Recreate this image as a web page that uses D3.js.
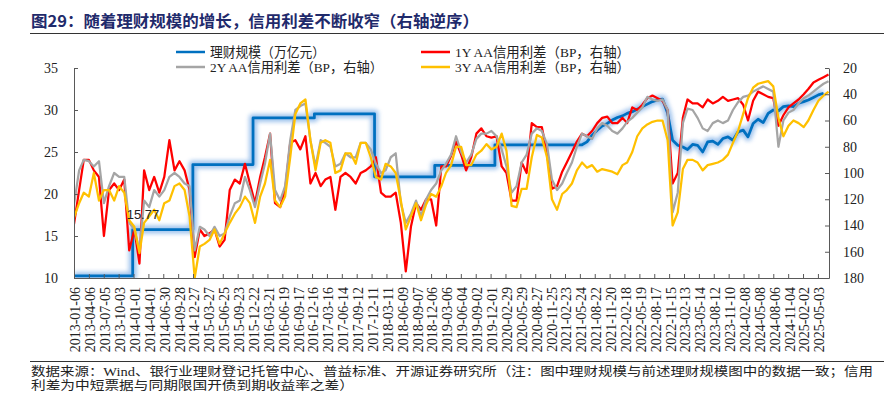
<!DOCTYPE html>
<html>
<head>
<meta charset="utf-8">
<script src="https://cdn.jsdelivr.net/npm/d3@7"></script>
<style>
  body { margin: 0; background: #fff; }
  svg { display: block; }
</style>
</head>
<body>
<svg id="chart" width="884" height="393"></svg>
<script>
// ---- data ----
const tickLabels = ["2013-01-06","2013-04-06","2013-07-05","2013-10-03","2014-01-01","2014-04-01","2014-06-30",
  "2014-09-28","2014-12-27","2015-03-27","2015-06-25","2015-09-23","2015-12-22","2016-03-21","2016-06-19",
  "2016-09-17","2016-12-16","2017-03-16","2017-06-14","2017-09-12","2017-12-11","2018-03-11","2018-06-09",
  "2018-09-07","2018-12-06","2019-03-06","2019-06-04","2019-09-02","2019-12-01","2020-02-29","2020-05-29",
  "2020-08-27","2020-11-25","2021-02-23","2021-05-24","2021-08-22","2021-11-20","2022-02-18","2022-05-19",
  "2022-08-17","2022-11-15","2023-02-13","2023-05-14","2023-08-12","2023-11-10","2024-02-08","2024-05-08",
  "2024-08-06","2024-11-04","2025-02-02","2025-05-03"];

// monthly observation dates for the spread series: 2013-01 .. 2025-07
const months = d3.timeMonth.range(new Date(2013, 0, 1), new Date(2025, 7, 1)).map(d => d3.timeDay.offset(d, 5));

const spread1Y = [139,113,90,90,98,103,148,113,108,113,105,159,
  143,169,98,113,103,115,103,75,98,91,98,113,
  164,143,148,146,143,156,151,113,105,108,93,108,
  123,103,88,70,123,126,113,77,75,82,72,108,
  100,110,105,103,128,103,100,103,108,100,98,95,
  88,115,118,118,115,138,175,141,123,128,120,120,
  140,95,95,87,76,86,98,88,70,66,72,73,
  72,95,100,121,121,92,100,62,65,65,85,112,
  110,99,92,84,76,70,72,68,62,58,57,62,
  62,58,62,50,52,48,43,41,43,45,52,108,
  100,58,44,47,47,50,44,47,45,42,45,44,
  43,48,60,45,38,40,42,43,64,56,50,47,
  44,40,36,31,29,27,25];

const spread2Y = [124,98,90,91,95,91,123,110,100,103,103,138,
  143,159,121,126,113,118,113,103,100,103,108,110,
  159,141,143,148,141,148,146,133,123,121,103,113,
  126,108,93,70,113,121,110,75,52,49,47,75,
  95,75,77,80,95,93,85,88,88,77,77,82,
  93,100,98,88,85,123,138,131,121,133,120,113,
  108,98,93,86,72,84,92,86,74,70,70,68,
  72,82,95,115,110,92,86,70,66,68,78,105,
  113,108,100,92,80,70,72,74,66,62,64,68,
  70,66,61,58,54,50,42,44,45,44,52,130,
  115,62,51,52,58,66,68,62,60,62,60,52,
  46,42,41,38,36,34,36,38,80,60,54,52,
  47,43,41,38,35,32,30];

const spread3Y = [134,123,115,118,100,121,113,113,121,110,115,136,
  141,161,138,133,128,136,123,121,110,108,113,133,
  180,156,154,151,143,154,146,138,131,126,118,123,
  138,118,108,90,121,126,118,88,55,47,44,75,
  98,77,75,77,100,98,85,85,93,77,77,88,
  103,105,93,95,100,121,143,133,123,136,124,116,
  118,110,100,94,80,80,94,94,86,83,78,82,
  80,70,83,125,126,112,112,88,71,73,88,120,
  128,116,113,108,98,92,96,94,99,97,98,99,
  101,94,92,84,72,66,63,61,60,60,75,140,
  130,97,90,90,92,98,94,93,92,90,86,77,
  68,55,43,35,32,31,30,34,58,72,64,60,
  62,65,60,52,45,41,38];

// wealth-management scale (trillion yuan): annual steps, then monthly from 2021-06
const scaleStepDates = ["2013-01-06","2013-12-27","2014-12-26","2015-12-25","2016-12-30","2017-12-29","2018-12-28","2019-12-27"];
const scaleStepValues = [10.24, 15.77, 23.50, 29.05, 29.54, 22.04, 23.40, 25.86];
const scaleMonthlyStart = "2021-06-06";
const scaleMonthly = [25.86,26.2,27.0,27.6,28.1,28.4,28.8,29.1,29.3,29.6,29.8,30.1,
  30.4,30.7,31.0,31.2,31.3,29.6,26.4,25.8,25.6,25.3,25.9,25.8,
  25.0,26.2,26.3,25.9,26.6,26.8,26.4,27.4,27.6,26.8,28.4,28.9,
  28.5,29.6,30.0,29.9,30.4,30.5,30.4,30.8,31.0,31.2,31.5,31.8,32.0];

const leftTicks = [10, 15, 20, 25, 30, 35];
const rightTicks = [20, 40, 60, 80, 100, 120, 140, 160, 180];

// ---- layout ----
const parse = d3.timeParse("%Y-%m-%d");
const serif = "'Liberation Serif', 'Noto Sans CJK SC', serif";
const svg = d3.select("#chart");

const x = d3.scaleTime()
  .domain([parse("2013-01-06"), parse("2025-07-09")])
  .range([74, 829]);
const yL = d3.scaleLinear().domain([10, 35]).range([278, 68]);
const yR = d3.scaleLinear().domain([20, 180]).range([68, 278]);

// title
svg.append("text")
  .attr("x", 31).attr("y", 27)
  .attr("font-family", "'Noto Sans CJK SC', sans-serif")
  .attr("font-weight", 700)
  .attr("font-size", 16)
  .attr("fill", "#1f2a6b")
  .attr("textLength", 448).attr("lengthAdjust", "spacingAndGlyphs")
  .text("图29：随着理财规模的增长，信用利差不断收窄（右轴逆序）");
svg.append("line").attr("x1", 30).attr("x2", 884).attr("y1", 33.5).attr("y2", 33.5)
  .attr("stroke", "#333").attr("stroke-width", 1);

// legend
const legendItems = [
  { name: "理财规模（万亿元）", color: "#0070C0", x: 176, y: 52, w: 115 },
  { name: "1Y AA信用利差（BP，右轴）", color: "#FF0000", x: 421, y: 52, w: 175 },
  { name: "2Y AA信用利差（BP，右轴）", color: "#A5A5A5", x: 176, y: 67, w: 173 },
  { name: "3Y AA信用利差（BP，右轴）", color: "#FFC000", x: 421, y: 67, w: 175 }
];
const lg = svg.append("g").selectAll("g").data(legendItems).enter().append("g")
  .attr("transform", d => `translate(${d.x},${d.y})`);
lg.append("line").attr("x1", 0).attr("x2", 29).attr("y1", 0).attr("y2", 0)
  .attr("stroke", d => d.color).attr("stroke-width", 2.5);
lg.append("text").attr("x", 34).attr("y", 0).attr("dy", "0.35em")
  .attr("font-family", serif).attr("font-size", 13.5).attr("fill", "#222")
  .attr("textLength", d => d.w).attr("lengthAdjust", "spacingAndGlyphs")
  .text(d => d.name);

// glow filter for the scale line
const defs = svg.append("defs");
defs.append("filter").attr("id", "glow")
  .attr("x", "-5%").attr("y", "-20%").attr("width", "110%").attr("height", "140%")
  .append("feGaussianBlur").attr("stdDeviation", 2.2);
defs.append("clipPath").attr("id", "plotClip")
  .append("rect").attr("x", 74).attr("y", 60).attr("width", 755).attr("height", 219);

// blue series points
const bluePts = [];
scaleStepDates.forEach((s, i) => {
  const start = parse(s);
  const end = i + 1 < scaleStepDates.length ? parse(scaleStepDates[i + 1]) : parse(scaleMonthlyStart);
  bluePts.push([start, scaleStepValues[i]]);
  bluePts.push([end, scaleStepValues[i]]);
});
const mStart = parse(scaleMonthlyStart);
scaleMonthly.forEach((v, i) => bluePts.push([d3.timeMonth.offset(mStart, i), v]));

const plot = svg.append("g").attr("clip-path", "url(#plotClip)");
const blueLine = d3.line().x(d => x(d[0])).y(d => yL(d[1]));
plot.append("path").datum(bluePts).attr("d", blueLine)
  .attr("fill", "none").attr("stroke", "#8FB9EA").attr("stroke-width", 8)
  .attr("stroke-linejoin", "round").attr("opacity", 0.85).attr("filter", "url(#glow)");
plot.append("path").datum(bluePts).attr("d", blueLine)
  .attr("fill", "none").attr("stroke", "#0070C0").attr("stroke-width", 2.75)
  .attr("stroke-linejoin", "round");

// spreads (right axis, reversed)
const spreadLine = d3.line().x((d, i) => x(months[i])).y(d => yR(d));
[[spread1Y, "#FF0000"], [spread2Y, "#A5A5A5"], [spread3Y, "#FFC000"]].forEach(([vals, c]) => {
  plot.append("path").datum(vals).attr("d", spreadLine)
    .attr("fill", "none").attr("stroke", c).attr("stroke-width", 2.25)
    .attr("stroke-linejoin", "round");
});

// annotation
svg.append("text")
  .attr("x", x(parse("2014-02-27"))).attr("y", yL(15.77) - 11)
  .attr("text-anchor", "middle")
  .attr("font-family", "'Liberation Sans', Arial, sans-serif").attr("font-size", 13)
  .attr("fill", "#222").text("15.77");

// axes
const axisColor = "#595959";
const gx = svg.append("g").attr("transform", "translate(0,278)")
  .call(d3.axisBottom(x).tickValues(tickLabels.map(parse))
    .tickFormat(d3.timeFormat("%Y-%m-%d")).tickSizeInner(-4).tickSizeOuter(0));
gx.selectAll("text")
  .attr("transform", "rotate(-90)").attr("text-anchor", "end")
  .attr("x", -9).attr("y", 1).attr("dy", "0.35em");

const gl = svg.append("g").attr("transform", "translate(74,0)")
  .call(d3.axisLeft(yL).tickValues(leftTicks).tickSizeInner(-4).tickSizeOuter(0).tickPadding(16));
const gr = svg.append("g").attr("transform", "translate(829,0)")
  .call(d3.axisRight(yR).tickValues(rightTicks).tickSizeInner(-4).tickSizeOuter(0).tickPadding(14));

[gx, gl, gr].forEach(g => {
  g.attr("font-family", serif).attr("font-size", 14);
  g.selectAll("path, line").attr("stroke", axisColor);
  g.selectAll("text").attr("fill", "#222");
});

// footer
svg.append("line").attr("x1", 30).attr("x2", 884).attr("y1", 361.5).attr("y2", 361.5)
  .attr("stroke", "#333").attr("stroke-width", 1);
svg.append("text").attr("x", 31).attr("y", 372).attr("dy", "0.35em")
  .attr("font-family", serif).attr("font-size", 12.5).attr("fill", "#222")
  .attr("textLength", 842).attr("lengthAdjust", "spacingAndGlyphs")
  .text("数据来源：Wind、银行业理财登记托管中心、普益标准、开源证券研究所（注：图中理财规模与前述理财规模图中的数据一致；信用");
svg.append("text").attr("x", 31).attr("y", 386).attr("dy", "0.35em")
  .attr("font-family", serif).attr("font-size", 12.5).attr("fill", "#222")
  .attr("textLength", 323).attr("lengthAdjust", "spacingAndGlyphs")
  .text("利差为中短票据与同期限国开债到期收益率之差）");
</script>
</body>
</html>
